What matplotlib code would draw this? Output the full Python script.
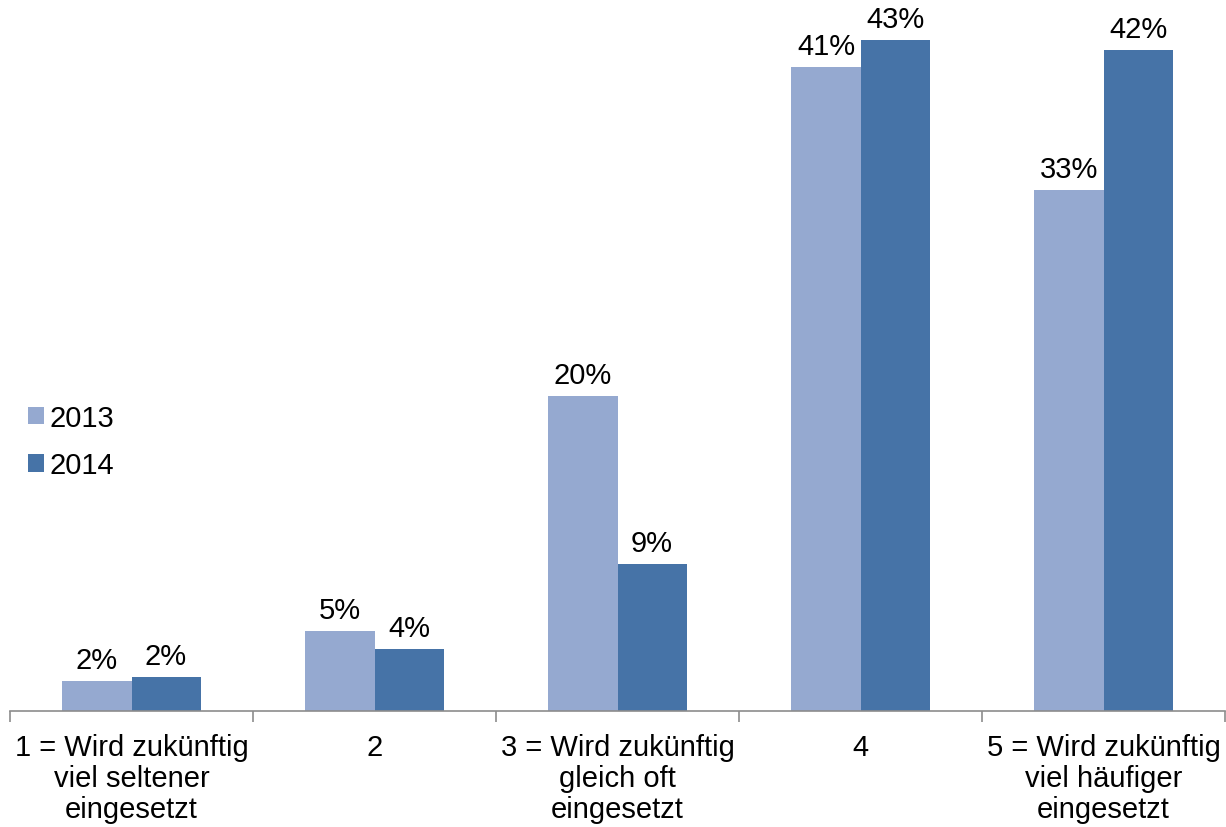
import matplotlib.pyplot as plt
import numpy as np

plt.rcParams['font.family'] = ['Liberation Sans', 'DejaVu Sans']

categories = ['1 = Wird zukünftig\nviel seltener\neingesetzt',
              '2',
              '3 = Wird zukünftig\ngleich oft\neingesetzt',
              '4',
              '5 = Wird zukünftig\nviel häufiger\neingesetzt']
years = ['2013', '2014']
share_2013 = [1.9, 5.1, 20.2, 41.3, 33.4]
share_2014 = [2.2, 4.0, 9.4, 43.0, 42.4]

colors = ['#95a9d0', '#4673a7']

fig = plt.figure(figsize=(12.26, 8.28), dpi=100)
ax = fig.add_axes([10 / 1226, 116 / 828, 1215 / 1226, 702 / 828])

x = np.arange(len(categories))
w = 0.284
for k, (vals, lab) in enumerate(zip([share_2013, share_2014], years)):
    bars = ax.bar(x + (k - 0.5) * w, vals, width=w, color=colors[k],
                  linewidth=0, label=lab)
    for b, v in zip(bars, vals):
        ax.annotate(f'{v:.0f}%', (b.get_x() + b.get_width() / 2, v),
                    xytext=(0, 5), textcoords='offset points',
                    ha='center', va='bottom', fontsize=21)

ax.set_xlim(-0.5, len(categories) - 0.5)
ax.set_ylim(0, 45)

for s in ['top', 'right', 'left']:
    ax.spines[s].set_visible(False)
ax.spines['bottom'].set_color('#8c8c8c')
ax.spines['bottom'].set_linewidth(1.2)
ax.set_yticks([])

# category labels in the middle, tick marks on the borders
ax.set_xticks(x)
ax.set_xticklabels(categories, fontsize=21, linespacing=1.13)
ax.tick_params(axis='x', which='major', length=0, pad=16)
ax.set_xticks(np.arange(-0.5, len(categories)), minor=True)
ax.tick_params(axis='x', which='minor', length=8, width=1.2, color='#8c8c8c',
               direction='out')

fig.legend(loc='upper left', bbox_to_anchor=(16 / 1226, 1 - 393 / 828),
           frameon=False, fontsize=21, handlelength=0.55, handleheight=0.55,
           handletextpad=0.2, labelspacing=0.68, borderaxespad=0)

fig.savefig('out.png', dpi=100)
